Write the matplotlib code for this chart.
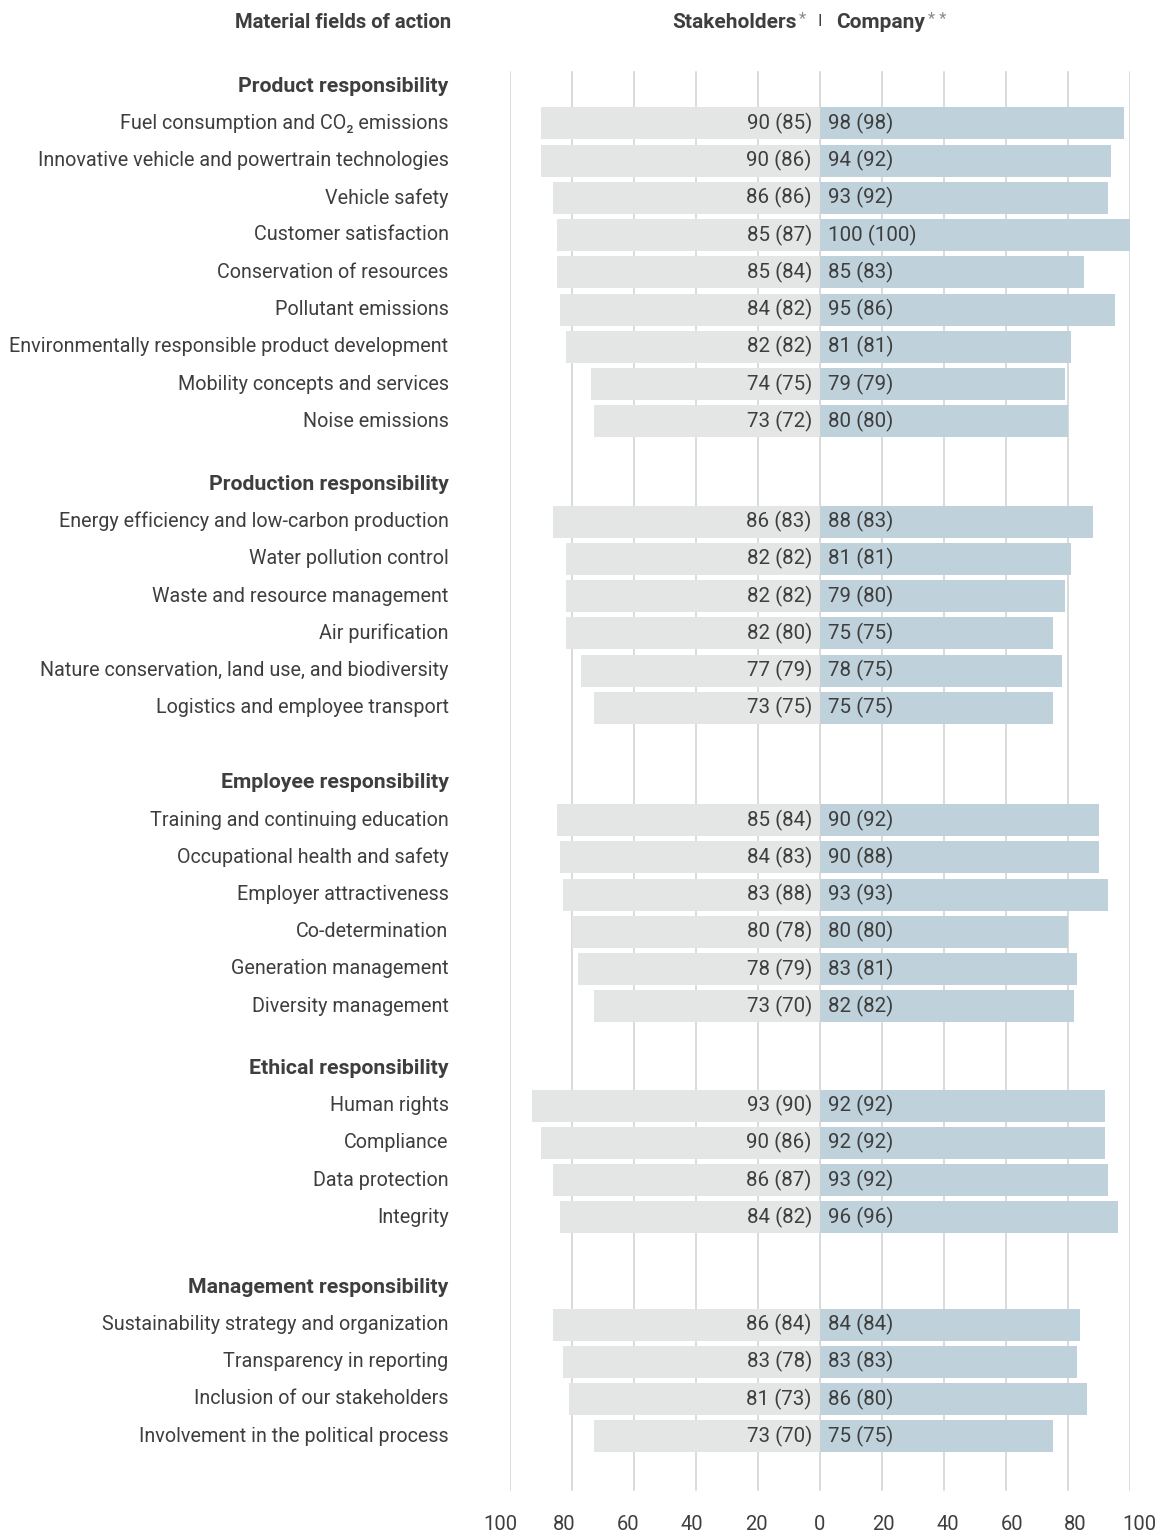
import matplotlib.pyplot as plt

plt.rcParams['font.family'] = ['Roboto', 'DejaVu Sans']

# ============================================
# Materiality matrix: stakeholders vs company
# ============================================

groups = [
    "Product responsibility",
    "Production responsibility",
    "Employee responsibility",
    "Ethical responsibility",
    "Management responsibility",
]

product_topics = [
    "Fuel consumption and CO\u2082 emissions",
    "Innovative vehicle and powertrain technologies",
    "Vehicle safety",
    "Customer satisfaction",
    "Conservation of resources",
    "Pollutant emissions",
    "Environmentally responsible product development",
    "Mobility concepts and services",
    "Noise emissions",
]
product_stake = [90, 90, 86, 85, 85, 84, 82, 74, 73]
product_stake_prev = [85, 86, 86, 87, 84, 82, 82, 75, 72]
product_comp = [98, 94, 93, 100, 85, 95, 81, 79, 80]
product_comp_prev = [98, 92, 92, 100, 83, 86, 81, 79, 80]

production_topics = [
    "Energy efficiency and low-carbon production",
    "Water pollution control",
    "Waste and resource management",
    "Air purification",
    "Nature conservation, land use, and biodiversity",
    "Logistics and employee transport",
]
production_stake = [86, 82, 82, 82, 77, 73]
production_stake_prev = [83, 82, 82, 80, 79, 75]
production_comp = [88, 81, 79, 75, 78, 75]
production_comp_prev = [83, 81, 80, 75, 75, 75]

employee_topics = [
    "Training and continuing education",
    "Occupational health and safety",
    "Employer attractiveness",
    "Co-determination",
    "Generation management",
    "Diversity management",
]
employee_stake = [85, 84, 83, 80, 78, 73]
employee_stake_prev = [84, 83, 88, 78, 79, 70]
employee_comp = [90, 90, 93, 80, 83, 82]
employee_comp_prev = [92, 88, 93, 80, 81, 82]

ethical_topics = ["Human rights", "Compliance", "Data protection", "Integrity"]
ethical_stake = [93, 90, 86, 84]
ethical_stake_prev = [90, 86, 87, 82]
ethical_comp = [92, 92, 93, 96]
ethical_comp_prev = [92, 92, 92, 96]

management_topics = [
    "Sustainability strategy and organization",
    "Transparency in reporting",
    "Inclusion of our stakeholders",
    "Involvement in the political process",
]
management_stake = [86, 83, 81, 73]
management_stake_prev = [84, 78, 73, 70]
management_comp = [84, 83, 86, 75]
management_comp_prev = [84, 83, 80, 75]

tick_values = [-100, -80, -60, -40, -20, 0, 20, 40, 60, 80, 100]

group_data = [
    (product_topics, product_stake, product_stake_prev, product_comp, product_comp_prev),
    (production_topics, production_stake, production_stake_prev, production_comp, production_comp_prev),
    (employee_topics, employee_stake, employee_stake_prev, employee_comp, employee_comp_prev),
    (ethical_topics, ethical_stake, ethical_stake_prev, ethical_comp, ethical_comp_prev),
    (management_topics, management_stake, management_stake_prev, management_comp, management_comp_prev),
]

# layout (pixels, y downward)
W, H = 1164, 1535
row_step = 37.25
first_header = 86
group_gaps = [63, 75, 62, 70]

stake_color = "#e4e6e6"
comp_color = "#bfd1db"
grid_color = "#cfd1d2"
text_color = "#3e3e3e"
label_x = -119.8

fig = plt.figure(figsize=(W / 100, H / 100), dpi=100)
ax = fig.add_axes([510 / W, 0, 620 / W, 1])
ax.set_xlim(-100, 100)
ax.set_ylim(H, 0)
ax.axis("off")

# gridlines
for t in tick_values:
    ax.plot([t, t], [72, 1490], color=grid_color, lw=1.1, zorder=0)
    ax.text(t * 1.03, 1525, str(abs(t)), ha="center", va="center",
            fontsize=14.5, color=text_color, clip_on=False)

y = first_header
for gi, (name, data) in enumerate(zip(groups, group_data)):
    topics, stake, stake_prev, comp, comp_prev = data
    ax.text(label_x, y, name, ha="right", va="center", fontsize=15.3,
            fontweight="bold", color=text_color, clip_on=False)
    for i, topic in enumerate(topics):
        yy = y + row_step * (i + 1)
        ax.barh(yy, -stake[i], height=32, color=stake_color, zorder=2)
        ax.barh(yy, comp[i], height=32, color=comp_color, zorder=2)
        ax.text(label_x, yy, topic, ha="right", va="center", fontsize=14.2,
                color=text_color, clip_on=False)
        ax.text(-2.6, yy, f"{stake[i]} ({stake_prev[i]})", ha="right",
                va="center", fontsize=14.8, color=text_color, zorder=3)
        ax.text(2.6, yy, f"{comp[i]} ({comp_prev[i]})", ha="left",
                va="center", fontsize=14.8, color=text_color, zorder=3)
    if gi < len(group_gaps):
        y = y + row_step * len(topics) + group_gaps[gi]

# column headers
fig.text(343 / W, 1 - 22 / H, "Material fields of action", ha="center",
         va="center", fontsize=14.6, fontweight="bold", color=text_color)
fig.text(797 / W, 1 - 22 / H, "Stakeholders", ha="right", va="center",
         fontsize=15, fontweight="bold", color=text_color)
fig.text(799 / W, 1 - 19 / H, "*", ha="left", va="center",
         fontsize=12, color="#888888")
fig.text(820 / W, 1 - 22 / H, "I", ha="center", va="center",
         fontsize=12, color=text_color)
fig.text(836 / W, 1 - 22 / H, "Company", ha="left", va="center",
         fontsize=15, fontweight="bold", color=text_color)
fig.text(928 / W, 1 - 19 / H, "* *", ha="left", va="center",
         fontsize=12, color="#888888")

plt.savefig("out.png", dpi=100)
